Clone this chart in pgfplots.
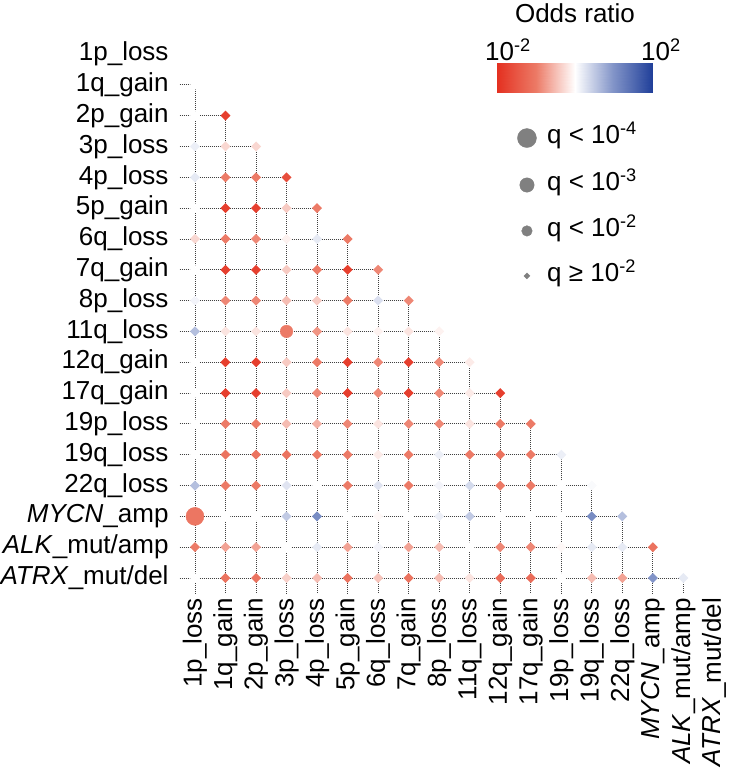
\documentclass[border=0pt]{standalone}
\usepackage{fontspec}
\setmainfont{Liberation Sans}
\usepackage{pgfplots}
\pgfplotsset{compat=1.18}
\usepackage{pgfplotstable}
\newcommand{\fs}{\fontsize{26bp}{30bp}\selectfont}
\pgfdeclareplotmark{rhomb}{%
  \pgfpathmoveto{\pgfqpoint{0pt}{\pgfplotmarksize}}%
  \pgfpathlineto{\pgfqpoint{\pgfplotmarksize}{0pt}}%
  \pgfpathlineto{\pgfqpoint{0pt}{-\pgfplotmarksize}}%
  \pgfpathlineto{\pgfqpoint{-\pgfplotmarksize}{0pt}}%
  \pgfpathclose
  \pgfusepathqfill}
\pgfplotsset{
  colormap={rwb}{rgb255(0cm)=(228,48,32); rgb255(1cm)=(236,122,102); rgb255(2cm)=(255,255,255); rgb255(3cm)=(130,148,200); rgb255(4cm)=(33,64,154)},
}
% log10(odds ratio), column x, row y (q >= 0.01 -> diamonds)
\pgfplotstableread{
x y c
0 1 0
0 2 0
1 2 -1.8
0 3 0.15
1 3 -0.3
2 3 -0.3
0 4 0.2
1 4 -1.0
2 4 -1.0
3 4 -1.6
0 5 0
1 5 -1.8
2 5 -1.8
3 5 -0.4
4 5 -1.0
0 6 -0.3
1 6 -1.0
2 6 -0.9
3 6 -0.1
4 6 0.2
5 6 -1.0
0 7 0
1 7 -1.8
2 7 -1.8
3 7 -0.4
4 7 -1.0
5 7 -1.8
6 7 -0.9
0 8 0.1
1 8 -0.9
2 8 -0.9
3 8 -0.5
4 8 -0.4
5 8 -1.0
6 8 0.3
7 8 -0.9
0 9 0.6
1 9 -0.2
2 9 -0.2
4 9 -0.8
5 9 -0.2
6 9 -0.1
7 9 -0.2
8 9 -0.1
0 10 0
1 10 -1.8
2 10 -1.8
3 10 -0.4
4 10 -1.0
5 10 -1.8
6 10 -0.9
7 10 -1.8
8 10 -0.9
9 10 -0.15
0 11 0
1 11 -1.8
2 11 -1.8
3 11 -0.4
4 11 -0.9
5 11 -1.8
6 11 -0.9
7 11 -1.8
8 11 -0.9
9 11 -0.15
10 11 -1.8
0 12 0
1 12 -1.0
2 12 -1.0
3 12 -0.5
4 12 -0.6
5 12 -0.9
6 12 -0.2
7 12 -0.9
8 12 -0.9
9 12 -0.2
10 12 -1.0
11 12 -1.0
0 13 0
1 13 -1.1
2 13 -1.1
3 13 -1.1
4 13 -1.0
5 13 -1.0
6 13 -0.15
7 13 -1.0
8 13 0.15
9 13 -1.0
10 13 -1.1
11 13 -1.0
12 13 0.15
0 14 0.6
1 14 -1.0
2 14 -1.0
3 14 0.25
4 14 0
5 14 -1.0
6 14 0.25
7 14 -1.0
8 14 0.1
9 14 0.35
10 14 -1.0
11 14 -1.0
12 14 0
13 14 0.05
1 15 0
2 15 0
3 15 0.5
4 15 1.1
5 15 0
6 15 -0.05
7 15 0
8 15 0.15
9 15 0.5
10 15 0
11 15 0
12 15 0
13 15 1.1
14 15 0.6
0 16 -1.0
1 16 -0.7
2 16 -0.7
3 16 0
4 16 0.2
5 16 -0.7
6 16 0.1
7 16 -0.7
8 16 -0.5
9 16 0
10 16 -0.9
11 16 -0.9
12 16 -0.05
13 16 0.2
14 16 0.2
15 16 -1.1
0 17 0
1 17 -1.1
2 17 -1.1
3 17 -0.35
4 17 -0.5
5 17 -1.1
6 17 -0.45
7 17 -1.1
8 17 -0.5
9 17 -0.2
10 17 -1.2
11 17 -1.2
12 17 0
13 17 -0.5
14 17 -0.7
15 17 1.0
16 17 0.2
}\ortable
\begin{document}
\begin{tikzpicture}
\path[use as bounding box] (0,0) rectangle (732bp,-772bp);
\begin{axis}[
  at={(179.7bp,-593.4bp)}, anchor=south west,
  scale only axis, width=549.5bp, height=554.8bp,
  xmin=-0.5, xmax=17.5, ymin=-0.5, ymax=17.5, y dir=reverse,
  clip=false,
  axis line style={draw=none}, major tick length=0pt,
  xtick={0,...,17}, ytick={0,...,17},
  xticklabels={1p\_loss,1q\_gain,2p\_gain,3p\_loss,4p\_loss,5p\_gain,6q\_loss,7q\_gain,8p\_loss,11q\_loss,12q\_gain,17q\_gain,19p\_loss,19q\_loss,22q\_loss,{\textit{MYCN}\_amp},{\textit{ALK}\_mut/amp},{\textit{ATRX}\_mut/del}},
  yticklabels={1p\_loss,1q\_gain,2p\_gain,3p\_loss,4p\_loss,5p\_gain,6q\_loss,7q\_gain,8p\_loss,11q\_loss,12q\_gain,17q\_gain,19p\_loss,19q\_loss,22q\_loss,{\textit{MYCN}\_amp},{\textit{ALK}\_mut/amp},{\textit{ATRX}\_mut/del}},
  x tick label style={rotate=90, anchor=east, font=\fs, inner sep=0pt},
  y tick label style={anchor=east, font=\fs, inner sep=0pt},
  xticklabel shift=4.5bp, yticklabel shift=11bp,
  colormap name=rwb,
  point meta min=-2, point meta max=2,
  unbounded coords=jump,
]
% grid lines
\addplot[black!75, line width=0.85bp, dash pattern=on 0.85bp off 1.15bp, forget plot] coordinates {
(-0.5,1) (0,1) (nan,nan) (-0.5,2) (1,2) (nan,nan) (-0.5,3) (2,3) (nan,nan)
(-0.5,4) (3,4) (nan,nan) (-0.5,5) (4,5) (nan,nan) (-0.5,6) (5,6) (nan,nan)
(-0.5,7) (6,7) (nan,nan) (-0.5,8) (7,8) (nan,nan) (-0.5,9) (8,9) (nan,nan)
(-0.5,10) (9,10) (nan,nan) (-0.5,11) (10,11) (nan,nan) (-0.5,12) (11,12) (nan,nan)
(-0.5,13) (12,13) (nan,nan) (-0.5,14) (13,14) (nan,nan) (-0.5,15) (14,15) (nan,nan)
(-0.5,16) (15,16) (nan,nan) (-0.5,17) (16,17)
};
\addplot[black!75, line width=0.85bp, dash pattern=on 0.85bp off 1.15bp, forget plot] coordinates {
(0,1) (0,17.5) (nan,nan) (1,2) (1,17.5) (nan,nan) (2,3) (2,17.5) (nan,nan)
(3,4) (3,17.5) (nan,nan) (4,5) (4,17.5) (nan,nan) (5,6) (5,17.5) (nan,nan)
(6,7) (6,17.5) (nan,nan) (7,8) (7,17.5) (nan,nan) (8,9) (8,17.5) (nan,nan)
(9,10) (9,17.5) (nan,nan) (10,11) (10,17.5) (nan,nan) (11,12) (11,17.5) (nan,nan)
(12,13) (12,17.5) (nan,nan) (13,14) (13,17.5) (nan,nan) (14,15) (14,17.5) (nan,nan)
(15,16) (15,17.5) (nan,nan) (16,17) (16,17.5)
};
% cells
\addplot[scatter, only marks, mark=rhomb, mark size=5bp, point meta=explicit,
  scatter/use mapped color={draw=mapped color, fill=mapped color}]
  table[x=x, y=y, meta=c]{\ortable};
\addplot[scatter, only marks, mark=*, mark size=6.3bp, point meta=explicit,
  scatter/use mapped color={draw=mapped color, fill=mapped color}]
  coordinates {(3,9) [-1.0]};
\addplot[scatter, only marks, mark=*, mark size=9bp, point meta=explicit,
  scatter/use mapped color={draw=mapped color, fill=mapped color}]
  coordinates {(0,15) [-1.05]};
% size legend
\addplot[only marks, mark=*, mark size=9.5bp, draw=black!50, fill=black!50] coordinates {(10.875,2.726)};
\addplot[only marks, mark=*, mark size=7.2bp, draw=black!50, fill=black!50] coordinates {(10.875,4.25)};
\addplot[only marks, mark=*, mark size=5.3bp, draw=black!50, fill=black!50] coordinates {(10.875,5.74)};
\addplot[only marks, mark=rhomb, mark size=3.3bp, draw=black!50, fill=black!50] coordinates {(10.875,7.20)};
\node[anchor=base west, font=\fs, inner sep=0pt] at (axis cs:11.53,2.897) {q < 10\textsuperscript{-4}};
\node[anchor=base west, font=\fs, inner sep=0pt] at (axis cs:11.53,4.422) {q < 10\textsuperscript{-3}};
\node[anchor=base west, font=\fs, inner sep=0pt] at (axis cs:11.53,5.915) {q < 10\textsuperscript{-2}};
\node[anchor=base west, font=\fs, inner sep=0pt] at (axis cs:11.53,7.375) {q ≥ 10\textsuperscript{-2}};
\end{axis}
% colour bar
\begin{axis}[
  at={(497bp,-92bp)}, anchor=south west,
  scale only axis, width=155bp, height=29bp,
  xmin=-2, xmax=2, ymin=0, ymax=1, hide axis,
  colormap name=rwb, point meta min=-2, point meta max=2,
]
\addplot[surf, shader=interp, mesh/rows=2, point meta=x] coordinates {
(-2,0) (-1.5,0) (-1,0) (-0.5,0) (0,0) (0.5,0) (1,0) (1.5,0) (2,0)

(-2,1) (-1.5,1) (-1,1) (-0.5,1) (0,1) (0.5,1) (1,1) (1.5,1) (2,1)
};
\end{axis}
\node[anchor=base, font=\fs, inner sep=0pt] at (575bp,-22bp) {Odds ratio};
\node[anchor=base west, font=\fs, inner sep=0pt] at (485bp,-60bp) {10\textsuperscript{-2}};
\node[anchor=base west, font=\fs, inner sep=0pt] at (641bp,-60bp) {10\textsuperscript{2}};
\end{tikzpicture}
\end{document}
